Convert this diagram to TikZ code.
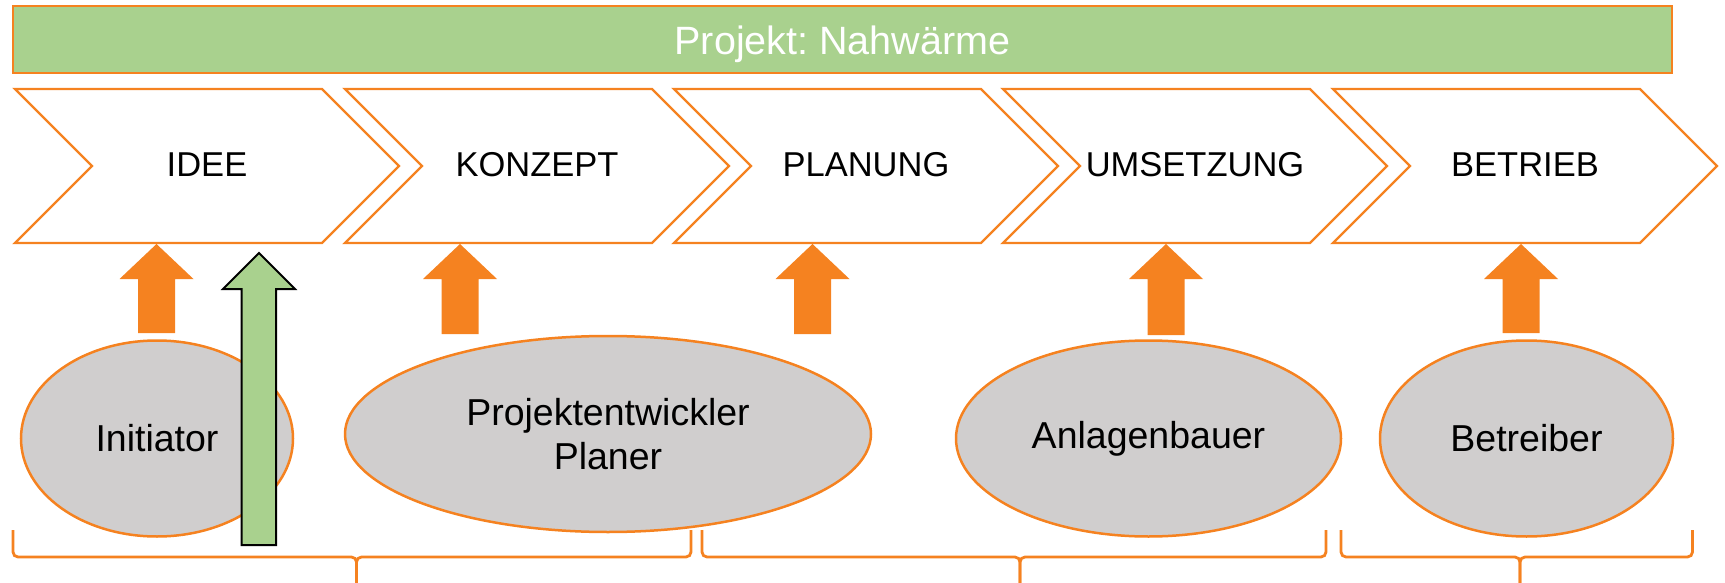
\documentclass[tikz,border=0pt]{standalone}
\usepackage{fontspec}
\setmainfont{Liberation Sans}
\usetikzlibrary{shapes.geometric}
\definecolor{org}{HTML}{F58220}
\definecolor{lgreen}{HTML}{A9D18E}
\definecolor{lgray}{HTML}{D0CECE}
\frenchspacing
\tikzset{
  chev/.style={draw=org, line width=2.4, fill=white, line join=miter},
  chevtext/.style={anchor=base, font=\fontsize{34.5}{40}\selectfont},
  ell/.style={ellipse, draw=org, fill=lgray, line width=2.5, inner sep=0pt,
    align=center, font=\fontsize{37.5}{44}\selectfont},
  uparrow/.style={fill=org},
  brc/.style={draw=org, line width=2.8, rounded corners=5pt},
}
\begin{document}
\begin{tikzpicture}[x=1pt, y=-1pt]
\useasboundingbox (0,0) rectangle (1725,583);
% title bar
\draw[draw=org, line width=2.5, fill=lgreen] (13,6) rectangle (1672,73);
\node[anchor=base, text=white, font=\fontsize{39.5}{46}\selectfont] (title) at (842.5,55) {Projekt: Nahwärme};
% chevrons
\foreach \L/\nm/\txt in {15/c1/IDEE, 345/c2/KONZEPT, 674/c3/PLANUNG, 1003/c4/UMSETZUNG, 1333/c5/BETRIEB}{
  \draw[chev] (\L,89) -- (\L+307,89) -- (\L+384,166) -- (\L+307,243) -- (\L,243) -- (\L+77,166) -- cycle;
  \node[chevtext] (\nm) at (\L+192,176.7) {\txt};
}
% orange block arrows
\foreach \cx/\b in {156.5/333, 460/334, 812.5/334, 1166/335, 1521/333}{
  \fill[uparrow] (\cx,244) -- (\cx+37,279) -- (\cx+18.5,279) -- (\cx+18.5,\b) -- (\cx-18.5,\b) -- (\cx-18.5,279) -- (\cx-37,279) -- cycle;
}
% actor ellipses
\node[ell, minimum width=272, minimum height=196] (ini) at (157,438.5) {Initiator};
\node[ell, minimum width=526, minimum height=196] (pro) at (608,434) {Projektentwickler\\Planer};
\node[ell, minimum width=385, minimum height=196] (anl) at (1148.5,438.5) {Anlagenbauer};
\node[ell, minimum width=293, minimum height=196] (bet) at (1526.5,438.5) {Betreiber};
% green arrow
\draw[fill=lgreen, draw=black, line width=2, line join=miter] (259,253) -- (295,289) -- (276,289) -- (276,545) -- (241.5,545) -- (241.5,289) -- (223,289) -- cycle;
% braces
\foreach \a/\m/\b in {13/356.5/691, 702/1020/1326, 1341/1520/1692.5}{
  \draw[brc] (\a,530) -- (\a,557) -- (\m,557) -- (\m,590);
  \draw[brc] (\b,530) -- (\b,557) -- (\m,557) -- (\m,590);
}
\end{tikzpicture}
\end{document}
